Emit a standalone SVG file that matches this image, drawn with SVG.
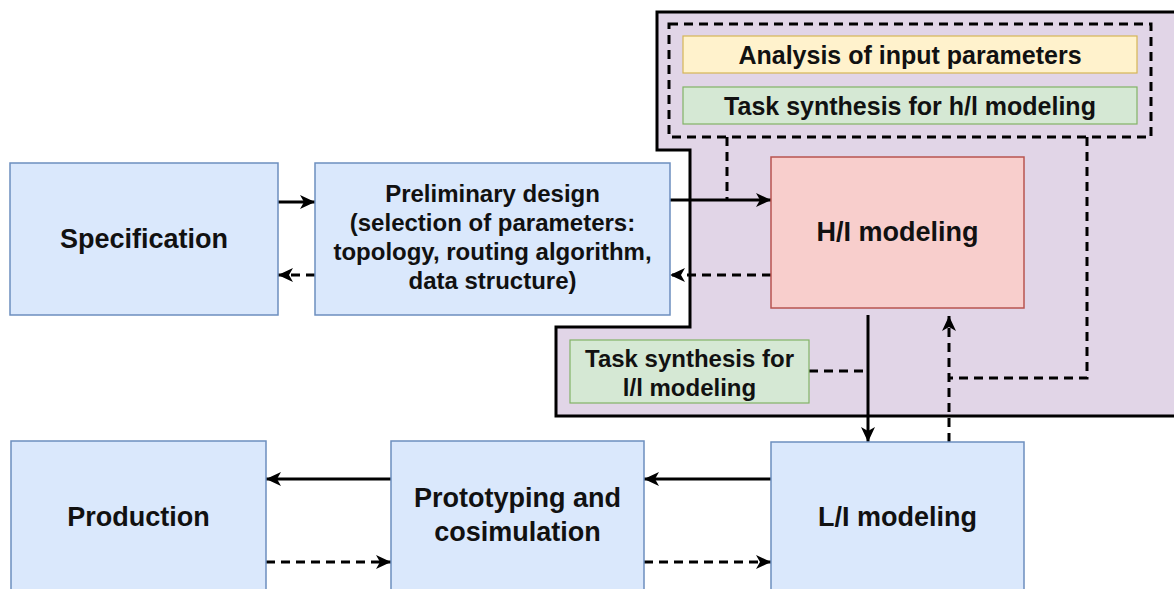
<svg xmlns="http://www.w3.org/2000/svg" width="1174" height="589" viewBox="0 0 1174 589">
  <style>
    .blue { fill: #dae8fc; stroke: #6c8ebf; stroke-width: 1.5; }
    .red { fill: #f8cecc; stroke: #b85450; stroke-width: 1.5; }
    .yellow { fill: #fff2cc; stroke: #d6b656; stroke-width: 1.2; }
    .green { fill: #d5e8d4; stroke: #82b366; stroke-width: 1.2; }
    text { font-family: "Liberation Sans", Arial, sans-serif; font-weight: bold; fill: #111; text-anchor: middle; }
    .big { font-size: 27px; }
    .mid { font-size: 24px; }
    .top { font-size: 25px; }
    .conn { fill: none; stroke: #000; stroke-width: 3; }
    .dash { stroke-dasharray: 9 6; }
  </style>
  <defs>
    <marker id="arrow" markerUnits="userSpaceOnUse" markerWidth="16" markerHeight="14" refX="15" refY="7" orient="auto">
      <path d="M0,0 L15,7 L0,14 L4,7 Z" fill="#000" stroke="none"/>
    </marker>
  </defs>

  <g id="area">
    <polygon points="657,12 1180,12 1180,416 556,416 556,327 690,327 690,150 657,150" fill="#e1d5e7" stroke="#000" stroke-width="3" stroke-linejoin="miter"/>
    <rect x="669" y="24" width="482" height="113" fill="none" stroke="#000" stroke-width="3" stroke-dasharray="9 6"/>
  </g>

  <g id="connectors">
    <line class="conn" x1="278" y1="202" x2="315" y2="202" marker-end="url(#arrow)"/>
    <line class="conn dash" x1="315" y1="275" x2="278" y2="275" marker-end="url(#arrow)"/>
    <line class="conn" x1="670" y1="200" x2="771" y2="200" marker-end="url(#arrow)"/>
    <line class="conn dash" x1="771" y1="275" x2="670" y2="275" marker-end="url(#arrow)"/>
    <line class="conn dash" x1="727" y1="137" x2="727" y2="200"/>
    <line class="conn" x1="868" y1="315" x2="868" y2="442" marker-end="url(#arrow)"/>
    <line class="conn dash" x1="809" y1="371" x2="868" y2="371"/>
    <line class="conn dash" x1="949" y1="442" x2="949" y2="316" marker-end="url(#arrow)"/>
    <polyline class="conn dash" points="1087,137 1087,378 949,378"/>
    <line class="conn" x1="771" y1="479" x2="644" y2="479" marker-end="url(#arrow)"/>
    <line class="conn" x1="391" y1="479" x2="266" y2="479" marker-end="url(#arrow)"/>
    <line class="conn dash" x1="266" y1="562" x2="391" y2="562" marker-end="url(#arrow)"/>
    <line class="conn dash" x1="644" y1="562" x2="771" y2="562" marker-end="url(#arrow)"/>
  </g>

  <g id="specification">
    <rect class="blue" x="10" y="163" width="268" height="152"/>
    <text class="big" x="144" y="248">Specification</text>
  </g>

  <g id="preliminary">
    <rect class="blue" x="315" y="163" width="355" height="152"/>
    <text class="mid" x="492.5" y="202">Preliminary design</text>
    <text class="mid" x="492.5" y="231">(selection of parameters:</text>
    <text class="mid" x="492.5" y="260">topology, routing algorithm,</text>
    <text class="mid" x="492.5" y="289">data structure)</text>
  </g>

  <g id="hl-modeling">
    <rect class="red" x="771" y="157" width="253" height="151"/>
    <text class="big" x="897.5" y="241">H/I modeling</text>
  </g>

  <g id="analysis">
    <rect class="yellow" x="683" y="36" width="454" height="37"/>
    <text class="top" x="910" y="64">Analysis of input parameters</text>
  </g>

  <g id="task-hl">
    <rect class="green" x="683" y="87" width="454" height="37"/>
    <text class="top" x="910" y="114.5">Task synthesis for h/l modeling</text>
  </g>

  <g id="task-ll">
    <rect class="green" x="570" y="340" width="239" height="63"/>
    <text class="mid" x="689.5" y="367">Task synthesis for</text>
    <text class="mid" x="689.5" y="396">l/l modeling</text>
  </g>

  <g id="production">
    <rect class="blue" x="11" y="441" width="255" height="160"/>
    <text class="big" x="138.5" y="526">Production</text>
  </g>

  <g id="prototyping">
    <rect class="blue" x="391" y="441" width="253" height="160"/>
    <text class="big" x="517.5" y="507">Prototyping and</text>
    <text class="big" x="517.5" y="541">cosimulation</text>
  </g>

  <g id="ll-modeling">
    <rect class="blue" x="771" y="442" width="253" height="160"/>
    <text class="big" x="897.5" y="526">L/I modeling</text>
  </g>
</svg>
